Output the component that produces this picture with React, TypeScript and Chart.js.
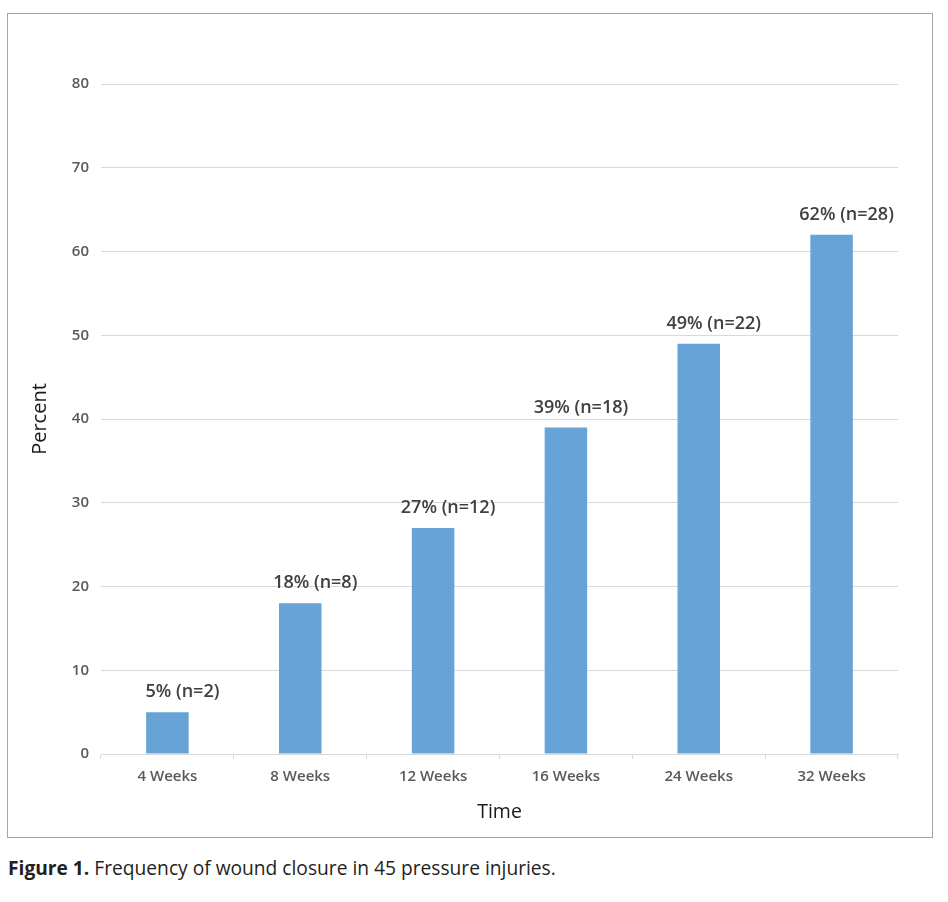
import React, { useEffect, useRef } from "react";
import { Chart, registerables } from "chart.js";

Chart.register(...registerables);

const categories = ["4 Weeks", "8 Weeks", "12 Weeks", "16 Weeks", "24 Weeks", "32 Weeks"];
const percentValues = [5, 18, 27, 39, 49, 62];
const barLabels = ["5% (n=2)", "18% (n=8)", "27% (n=12)", "39% (n=18)", "49% (n=22)", "62% (n=28)"];
const yTicks = [0, 10, 20, 30, 40, 50, 60, 70, 80];

const FONT = "'Open Sans', sans-serif";

const labelPlugin = {
  id: "barLabels",
  afterDatasetsDraw(chart: any) {
    const { ctx } = chart;
    const meta = chart.getDatasetMeta(0);
    ctx.save();
    ctx.font = `600 18px ${FONT}`;
    ctx.fillStyle = "#404040";
    ctx.textAlign = "center";
    ctx.textBaseline = "middle";
    meta.data.forEach((bar: any, i: number) => {
      ctx.fillText(barLabels[i], bar.x + 15, bar.y - 20);
    });
    ctx.restore();
  },
};

export default function App() {
  const canvasRef = useRef<HTMLCanvasElement | null>(null);

  useEffect(() => {
    if (!canvasRef.current) return;
    const chart = new Chart(canvasRef.current, {
      type: "bar",
      data: {
        labels: categories,
        datasets: [
          {
            data: percentValues,
            backgroundColor: "#67a3d7",
            borderWidth: 0,
            categoryPercentage: 1,
            barPercentage: 0.32,
          },
        ],
      },
      options: {
        responsive: false,
        animation: false,
        devicePixelRatio: 1,
        layout: { padding: { left: 0, right: 34, top: 70, bottom: 0 } },
        plugins: {
          legend: { display: false },
          tooltip: { enabled: false },
        },
        scales: {
          x: {
            afterFit: (scale: any) => {
              scale.height = 83;
            },
            grid: {
              display: true,
              drawOnChartArea: false,
              drawTicks: true,
              tickLength: 5,
              color: "#d9d9d9",
              offset: true,
            },
            border: { display: true, color: "#d9d9d9", width: 1 },
            ticks: {
              color: "#595959",
              font: { family: FONT, size: 15, weight: "600" },
              padding: 9,
              maxRotation: 0,
            },
            title: {
              display: true,
              text: "Time",
              color: "#1a1a1a",
              font: { family: FONT, size: 19.5 },
              padding: { top: 0, bottom: 13 },
            },
          },
          y: {
            min: 0,
            max: 80,
            afterFit: (scale: any) => {
              scale.width = 93;
            },
            afterBuildTicks: (scale: any) => {
              scale.ticks = yTicks.map((v) => ({ value: v }));
            },
            grid: {
              color: "#d9d9d9",
              drawTicks: false,
            },
            border: { display: false },
            ticks: {
              color: "#595959",
              font: { family: FONT, size: 15, weight: "600" },
              padding: 12,
            },
            title: {
              display: true,
              text: "Percent",
              color: "#1a1a1a",
              font: { family: FONT, size: 20 },
              padding: { top: 20, bottom: 0 },
            },
          },
        },
      },
      plugins: [labelPlugin],
    });
    return () => chart.destroy();
  }, []);

  return (
    <div
      style={{
        position: "absolute",
        left: 0,
        top: 0,
        width: 948,
        height: 902,
        background: "#ffffff",
      }}
    >
      <div
        style={{
          position: "absolute",
          left: 7,
          top: 13,
          width: 924,
          height: 823,
          border: "1px solid #a6a6a6",
        }}
      >
        <canvas ref={canvasRef} width={924} height={823} style={{ display: "block" }} />
      </div>
      <div
        style={{
          position: "absolute",
          left: 8,
          top: 854,
          fontFamily: "'Open Sans', sans-serif",
          fontSize: 19.2,
          color: "#231f20",
          whiteSpace: "nowrap",
        }}
      >
        <b>Figure 1.</b> Frequency of wound closure in 45 pressure injuries.
      </div>
    </div>
  );
}
